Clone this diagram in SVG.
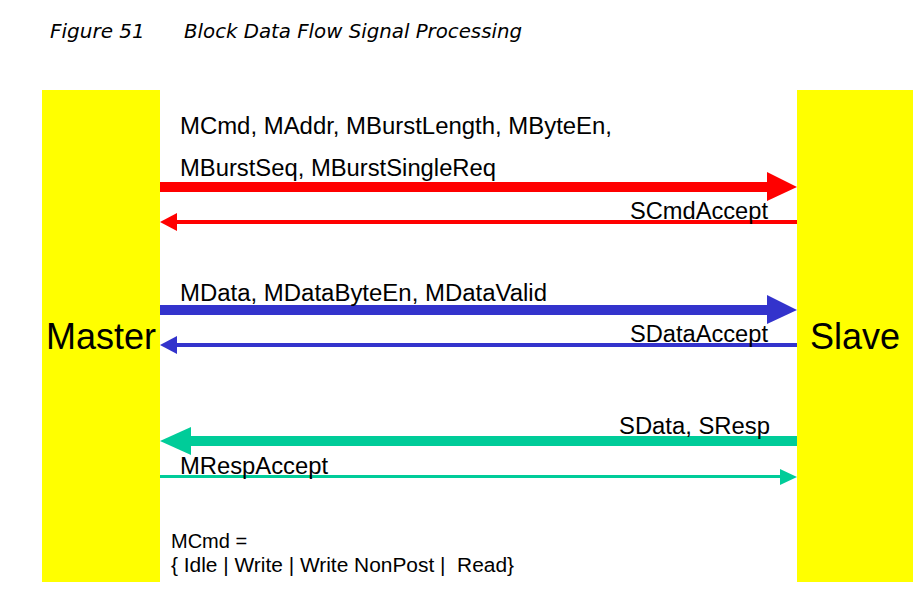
<svg xmlns="http://www.w3.org/2000/svg" width="921" height="600" viewBox="0 0 921 600">
<style>
.lbl{font-family:"Liberation Sans",Arial,sans-serif;font-size:23px;fill:#000}
.big{font-family:"Liberation Sans",Arial,sans-serif;font-size:36px;fill:#000}
.note{font-family:"Liberation Sans",Arial,sans-serif;font-size:20px;fill:#000}
.title{font-family:"DejaVu Sans","Liberation Sans",sans-serif;font-style:italic;font-size:20px;fill:#000}
.blk{fill:#ffff00}
</style>
<rect width="921" height="600" fill="#fff"/>
<g id="title">
<text class="title" x="50" y="38">Figure 51</text>
<text class="title" x="184" y="38" textLength="338" lengthAdjust="spacingAndGlyphs">Block Data Flow Signal Processing</text>
</g>
<g id="master">
<rect class="blk" x="42" y="90" width="118" height="492"/>
<text class="big" x="101" y="349" text-anchor="middle">Master</text>
</g>
<g id="slave">
<rect class="blk" x="797" y="90" width="116" height="492"/>
<text class="big" x="855" y="349" text-anchor="middle">Slave</text>
</g>
<g id="connectors">
<rect x="160" y="182" width="608" height="10" fill="#ff0000"/>
<polygon points="767,172 797,187 767,201" fill="#ff0000"/>
<rect x="176" y="220" width="621" height="4" fill="#ff0000"/>
<polygon points="160,222 177,213 177,231" fill="#ff0000"/>
<rect x="160" y="305" width="608" height="10" fill="#3333cc"/>
<polygon points="767,295 797,310 767,324" fill="#3333cc"/>
<rect x="176" y="343" width="621" height="4" fill="#3333cc"/>
<polygon points="160,345 177,336 177,354" fill="#3333cc"/>
<rect x="190" y="436" width="607" height="10" fill="#00cc99"/>
<polygon points="160,441 191,427 191,455" fill="#00cc99"/>
<rect x="160" y="475" width="628" height="3" fill="#00cc99"/>
<polygon points="797,477 780,469 780,485" fill="#00cc99"/>
</g>
<g id="labels">
<text class="lbl" x="180" y="134" textLength="432" lengthAdjust="spacingAndGlyphs">MCmd, MAddr, MBurstLength, MByteEn,</text>
<text class="lbl" x="180" y="176" textLength="316" lengthAdjust="spacingAndGlyphs">MBurstSeq, MBurstSingleReq</text>
<text class="lbl" x="630" y="219" textLength="138" lengthAdjust="spacingAndGlyphs">SCmdAccept</text>
<text class="lbl" x="180" y="301" textLength="367" lengthAdjust="spacingAndGlyphs">MData, MDataByteEn, MDataValid</text>
<text class="lbl" x="630" y="342" textLength="138" lengthAdjust="spacingAndGlyphs">SDataAccept</text>
<text class="lbl" x="619" y="434" textLength="151" lengthAdjust="spacingAndGlyphs">SData, SResp</text>
<text class="lbl" x="180" y="474" textLength="148" lengthAdjust="spacingAndGlyphs">MRespAccept</text>
<text class="note" x="171" y="548">MCmd =</text>
<text class="note" x="171" y="572" xml:space="preserve" textLength="343" lengthAdjust="spacingAndGlyphs">{ Idle | Write | Write NonPost |  Read}</text>
</g>
</svg>
